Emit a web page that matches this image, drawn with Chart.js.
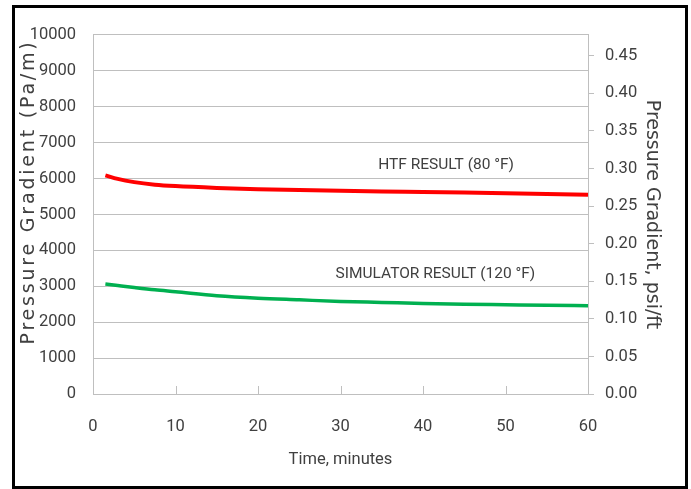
<!DOCTYPE html>
<html>
<head>
    <title>Pressure Gradient</title>
    <script src="https://cdn.jsdelivr.net/npm/chart.js"></script>
    <style>
        body {
            margin: 0;
            background-color: #fff;
        }
        .frame {
            position: absolute;
            left: 12px;
            top: 5px;
            width: 676px;
            height: 484px;
            box-sizing: border-box;
            border: 3px solid #000;
        }
        canvas {
            display: block;
        }
    </style>
</head>
<body>
<div class="frame">
    <canvas id="gradChart" width="670" height="478"></canvas>
</div>

<script>
    // time (minutes) and pressure gradient (Pa/m)
    const minutes   = [1.5, 3, 5, 7.5, 10, 15, 20, 25, 30, 35, 40, 45, 50, 55, 60];
    const htf       = [6090, 5990, 5900, 5830, 5790, 5740, 5705, 5680, 5660, 5640, 5625, 5608, 5590, 5570, 5550];
    const simulator = [3062, 3020, 2965, 2901, 2848, 2738, 2668, 2622, 2577, 2550, 2522, 2500, 2485, 2470, 2458];

    const xTicks     = [0, 10, 20, 30, 40, 50, 60];
    const leftTicks  = [0, 1000, 2000, 3000, 4000, 5000, 6000, 7000, 8000, 9000, 10000];
    const rightTicks = [0, 0.05, 0.10, 0.15, 0.20, 0.25, 0.30, 0.35, 0.40, 0.45];

    // series labels placed in data units
    const notes = [
        { text: 'HTF RESULT (80 °F)', x: 42.8, y: 6380 },
        { text: 'SIMULATOR RESULT (120 °F)', x: 41.5, y: 3345 }
    ];

    const FONT = "Roboto, 'Liberation Sans', sans-serif";
    const TITLE_FONT = "'DejaVu Sans', Verdana, sans-serif";
    const TEXT = '#404040';
    const AXIS = '#bfbfbf';

    const pts = vals => vals.map((v, i) => ({ x: minutes[i], y: v }));
    const useTicks = list => scale => { scale.ticks = list.map(v => ({ value: v })); };

    // small tick marks pointing into the plot on the time axis
    const innerTicks = {
        id: 'innerTicks',
        afterDraw(chart) {
            const { ctx, chartArea } = chart;
            const xs = chart.scales.x;
            ctx.save();
            ctx.strokeStyle = AXIS;
            ctx.lineWidth = 1;
            xTicks.forEach(v => {
                const px = Math.round(xs.getPixelForValue(v)) + 0.5;
                ctx.beginPath();
                ctx.moveTo(px, chartArea.bottom);
                ctx.lineTo(px, chartArea.bottom - 8);
                ctx.stroke();
            });
            ctx.restore();
        }
    };

    const seriesNotes = {
        id: 'seriesNotes',
        afterDatasetsDraw(chart) {
            const { ctx } = chart;
            const xs = chart.scales.x, ys = chart.scales.y;
            ctx.save();
            ctx.font = '15.5px ' + FONT;
            ctx.fillStyle = TEXT;
            ctx.textAlign = 'center';
            ctx.textBaseline = 'middle';
            notes.forEach(n => ctx.fillText(n.text, xs.getPixelForValue(n.x), ys.getPixelForValue(n.y)));
            ctx.restore();
        }
    };

    // left title is spaced out in the original
    const leftTitle = {
        id: 'leftTitle',
        afterDraw(chart) {
            const ctx = chart.ctx;
            ctx.save();
            ctx.translate(14, 184);
            ctx.rotate(-Math.PI / 2);
            ctx.font = '19px ' + TITLE_FONT;
            ctx.letterSpacing = '2.8px';
            ctx.fillStyle = TEXT;
            ctx.textAlign = 'center';
            ctx.textBaseline = 'middle';
            ctx.fillText('Pressure Gradient (Pa/m)', 0, 0);
            ctx.restore();
        }
    };

    const ctx = document.getElementById('gradChart').getContext('2d');
    const chart = new Chart(ctx, {
        type: 'line',
        data: {
            datasets: [{
                data: pts(htf),
                borderColor: '#ff0000',
                borderWidth: 4,
                pointRadius: 0,
                cubicInterpolationMode: 'monotone'
            }, {
                data: pts(simulator),
                borderColor: '#00b050',
                borderWidth: 3.5,
                pointRadius: 0,
                cubicInterpolationMode: 'monotone'
            }]
        },
        options: {
            responsive: false,
            animation: false,
            devicePixelRatio: 1,
            layout: { padding: { top: 24, left: 0, right: 0, bottom: 0 } },
            plugins: { legend: { display: false }, tooltip: { enabled: false } },
            scales: {
                x: {
                    type: 'linear',
                    min: 0, max: 60,
                    afterBuildTicks: useTicks(xTicks),
                    afterFit: s => { s.height = 92; },
                    grid: { display: false },
                    border: { display: true, color: AXIS },
                    ticks: { color: TEXT, font: { family: FONT, size: 16.5 }, padding: 15, maxRotation: 0 },
                    title: {
                        display: true,
                        text: 'Time, minutes',
                        color: TEXT,
                        font: { family: FONT, size: 16.5 },
                        padding: { top: 0, bottom: 16 }
                    }
                },
                y: {
                    position: 'left',
                    min: 0, max: 10000,
                    afterBuildTicks: useTicks(leftTicks),
                    afterFit: s => { s.width = 78; },
                    grid: { color: AXIS, drawTicks: false },
                    border: { color: AXIS },
                    ticks: {
                        color: TEXT,
                        font: { family: FONT, size: 16.5 },
                        padding: 17,
                        callback: v => String(v)
                    }
                },
                y2: {
                    position: 'right',
                    min: 0, max: 0.4776,
                    afterBuildTicks: useTicks(rightTicks),
                    afterFit: s => { s.width = 97; },
                    grid: { drawOnChartArea: false, color: AXIS, tickLength: 6 },
                    border: { color: AXIS },
                    ticks: {
                        color: TEXT,
                        font: { family: FONT, size: 16.5 },
                        padding: 11,
                        callback: v => v.toFixed(2)
                    },
                    title: {
                        display: true,
                        text: 'Pressure Gradient, psi/ft',
                        color: TEXT,
                        font: { family: TITLE_FONT, size: 19 },
                        padding: { top: 21.6, bottom: 0 }
                    }
                }
            }
        },
        plugins: [innerTicks, seriesNotes, leftTitle]
    });
</script>
</body>
</html>
